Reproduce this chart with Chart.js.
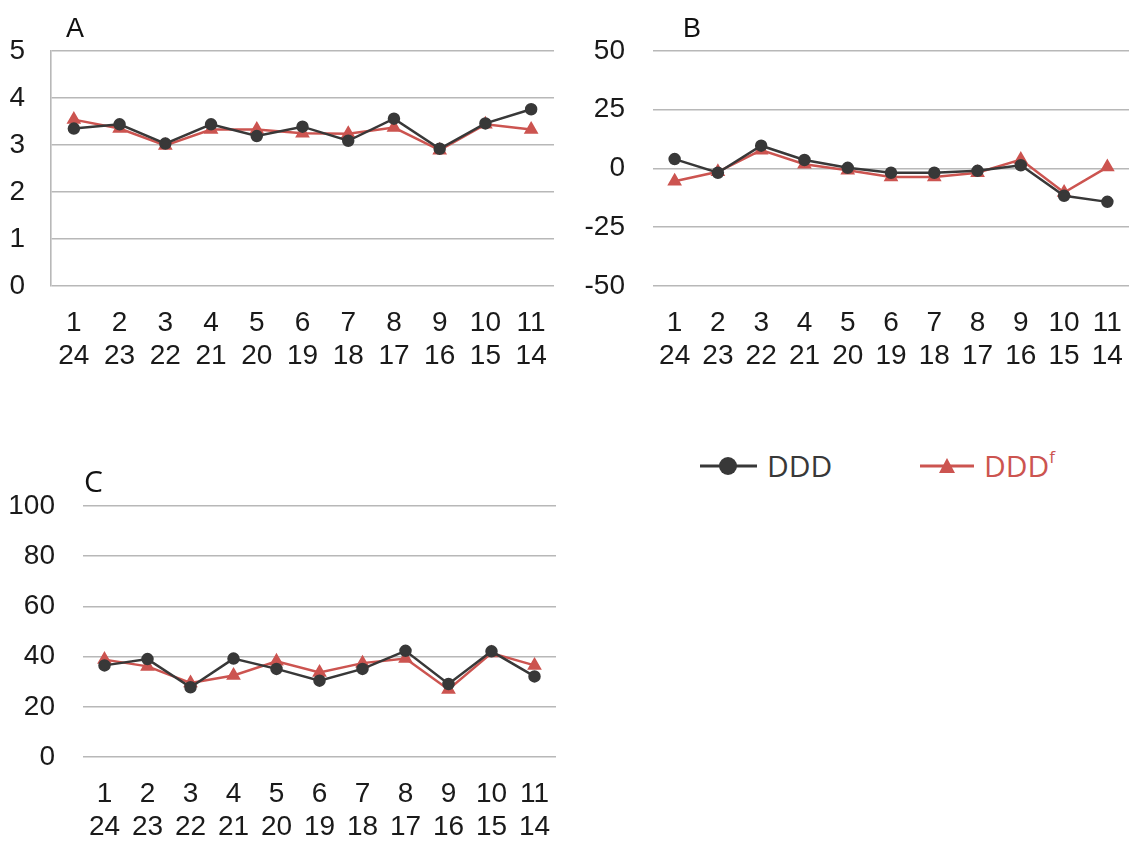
<!DOCTYPE html>
<html>
<head>
<meta charset="utf-8">
<title>DDD</title>
<script src="https://cdn.jsdelivr.net/npm/chart.js@4/dist/chart.umd.min.js"></script>
<style>
  html, body { margin: 0; padding: 0; background: #fff; }
  #page { position: relative; width: 1129px; height: 841px; overflow: hidden; }
  .panel { position: absolute; }
  #legend { position: absolute; left: 700px; top: 445px; font-family: 'Open Sans', sans-serif; font-size: 30px; }
  #legend .item { position: absolute; top: 0; white-space: nowrap; display: flex; align-items: center; }
  #legend svg { margin-right: 10px; }
  #legend sup { font-size: 17px; vertical-align: 14px; }
</style>
</head>
<body>
<div id="page">
  <div class="panel" style="left:0;top:0;width:560px;height:380px"><canvas id="chartA"></canvas></div>
  <div class="panel" style="left:560px;top:0;width:569px;height:380px"><canvas id="chartB"></canvas></div>
  <div class="panel" style="left:0;top:440px;width:560px;height:401px"><canvas id="chartC"></canvas></div>
  <div id="legend"></div>
</div>
<script>
// pair labels: upper / lower index
const pairTop = ['1','2','3','4','5','6','7','8','9','10','11'];
const pairBottom = ['24','23','22','21','20','19','18','17','16','15','14'];

const seriesNames = ['DDD', 'DDD'];
const seriesSup = ['', 'f'];

// panel A
const dddA  = [3.35, 3.44, 3.03, 3.44, 3.19, 3.39, 3.09, 3.56, 2.92, 3.46, 3.76];
const dddfA = [3.54, 3.35, 2.99, 3.33, 3.33, 3.25, 3.24, 3.37, 2.89, 3.44, 3.33];
// panel B
const dddB  = [4.0, -1.8, 9.7, 3.6, 0.3, -1.8, -1.8, -1.0, 1.4, -11.6, -14.2];
const dddfB = [-5.4, -1.4, 7.8, 1.8, -0.7, -3.6, -3.6, -1.8, 3.8, -10.2, 0.6];
// panel C
const dddC  = [36.5, 39.0, 27.8, 39.2, 35.1, 30.4, 35.1, 42.3, 29.1, 42.1, 32.1];
const dddfC = [38.8, 36.1, 29.5, 32.5, 38.1, 33.7, 37.4, 39.2, 26.9, 41.4, 36.5];

const darkColor = '#383838';
const redColor = '#cc5450';
const gridColor = '#b8b8b8';

Chart.defaults.font.family = "'Liberation Sans', Arial, sans-serif";
Chart.defaults.font.size = 28;
Chart.defaults.color = '#1a1a1a';
Chart.defaults.animation = false;
Chart.defaults.responsive = true;
Chart.defaults.maintainAspectRatio = false;
Chart.defaults.plugins.legend.display = false;
Chart.defaults.plugins.tooltip.enabled = false;

const labels = pairTop.map((t, i) => [t, pairBottom[i]]);

// big panel letter in the top-left corner
const panelLetter = {
  id: 'panelLetter',
  afterDraw(chart, args, opts) {
    const ctx = chart.ctx;
    ctx.save();
    ctx.font = opts.font;
    ctx.fillStyle = '#111';
    ctx.textBaseline = 'alphabetic';
    ctx.fillText(opts.text, opts.x, opts.y);
    ctx.restore();
  }
};

function makeChart(id, cfg) {
  return new Chart(document.getElementById(id), {
    type: 'line',
    data: {
      labels: labels,
      datasets: [{
        label: seriesNames[0],
        data: cfg.ddd,
        borderColor: darkColor,
        backgroundColor: darkColor,
        borderWidth: 2.5,
        pointStyle: 'circle',
        pointRadius: 5,
        tension: 0
      }, {
        label: seriesNames[1] + seriesSup[1],
        data: cfg.dddf,
        borderColor: redColor,
        backgroundColor: redColor,
        borderWidth: 2.5,
        pointStyle: 'triangle',
        pointRadius: 6,
        tension: 0
      }]
    },
    options: {
      layout: { padding: cfg.padding, autoPadding: false },
      plugins: { panelLetter: cfg.letter },
      scales: {
        x: {
          offset: true,
          grid: { display: false, drawTicks: false },
          border: { display: false },
          ticks: { padding: 20, maxRotation: 0, autoSkip: false, color: '#1a1a1a' },
          afterFit: s => {
            s.height = cfg.xHeight;
            // labels sit inside the offset band, no side padding needed
            s.paddingLeft = 0;
            s.paddingRight = 0;
          }
        },
        y: {
          min: cfg.min,
          max: cfg.max,
          ticks: { stepSize: cfg.step, padding: cfg.yPad, color: '#1a1a1a' },
          grid: { color: gridColor, lineWidth: 1.6, drawTicks: false },
          border: { display: cfg.axisLine, color: gridColor, width: 1.6 },
          afterFit: s => { s.width = cfg.yWidth; }
        }
      }
    },
    plugins: [panelLetter]
  });
}

const chartA = makeChart('chartA', {
  ddd: dddA, dddf: dddfA, min: 0, max: 5, step: 1,
  padding: { top: 51, right: 6, left: 0, bottom: 0 },
  yWidth: 51, yPad: 26, xHeight: 94, axisLine: true,
  letter: { text: 'A', x: 66, y: 37, font: "27px 'Liberation Sans', Arial, sans-serif" }
});

const chartB = makeChart('chartB', {
  ddd: dddB, dddf: dddfB, min: -50, max: 50, step: 25,
  padding: { top: 51, right: 0, left: 0, bottom: 0 },
  yWidth: 93, yPad: 28, xHeight: 94, axisLine: false,
  letter: { text: 'B', x: 123, y: 37, font: "27px 'Liberation Sans', Arial, sans-serif" }
});

const chartC = makeChart('chartC', {
  ddd: dddC, dddf: dddfC, min: 0, max: 100, step: 20,
  padding: { top: 66, right: 4, left: 0, bottom: 0 },
  yWidth: 83, yPad: 28, xHeight: 84, axisLine: false,
  letter: { text: 'C', x: 84, y: 52, font: "30px 'Open Sans', sans-serif" }
});

// shared legend, built from the first chart's datasets
const legendEl = document.getElementById('legend');
const legendLeft = [0, 220];
chartA.data.datasets.forEach((ds, i) => {
  const item = document.createElement('div');
  item.className = 'item';
  item.style.left = legendLeft[i] + 'px';
  item.style.color = ds.borderColor;
  const marker = ds.pointStyle === 'circle'
    ? '<circle cx="28" cy="19" r="9" fill="' + ds.borderColor + '"/>'
    : '<polygon points="19,26 27,11 35,26" fill="' + ds.borderColor + '"/>';
  const w = ds.pointStyle === 'circle' ? 57 : 54;
  item.innerHTML =
    '<svg width="' + w + '" height="38"><line x1="0" y1="19" x2="' + w + '" y2="19" stroke="' +
    ds.borderColor + '" stroke-width="3"/>' + marker + '</svg>' +
    '<span>' + seriesNames[i] + (seriesSup[i] ? '<sup>' + seriesSup[i] + '</sup>' : '') + '</span>';
  legendEl.appendChild(item);
});
</script>
</body>
</html>
